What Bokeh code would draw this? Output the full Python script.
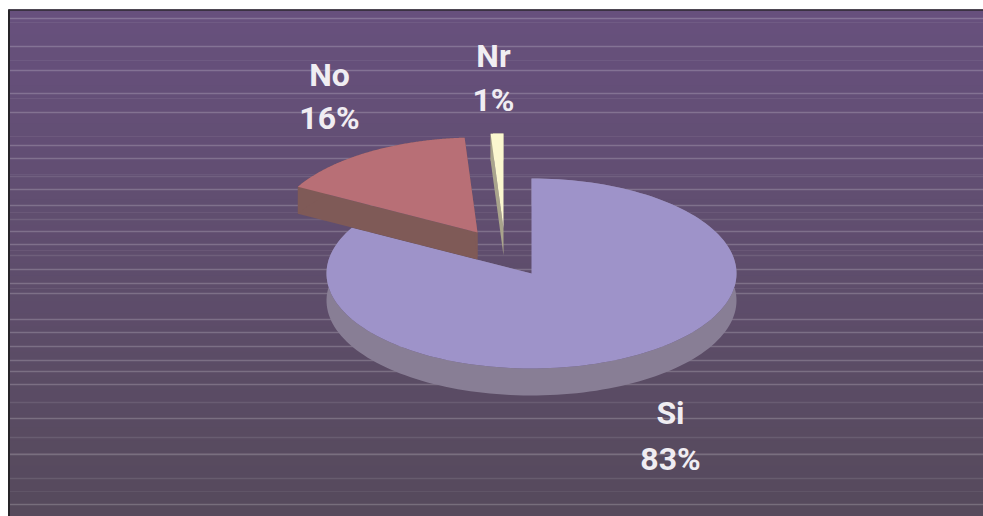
import numpy as np
from bokeh.plotting import figure
from bokeh.models import Range1d
from bokeh.core.properties import value
from bokeh.embed import file_html
from bokeh.resources import INLINE

# Data
categories = ["Si", "No", "Nr"]
percents = [83, 16, 1]
percent_labels = ["83%", "16%", "1%"]

# Layout (picture pixels)
W, H = 983, 516
LEFT, TOP = 8, 9
RX, RY = 205, 95
DEPTH = 27
CENTERS = {"Si": (531, 273), "No": (477, 232), "Nr": (503, 228)}
TOPS = {"Si": "#9e93c9", "No": "#b86f76", "Nr": "#fbf7cf"}
SIDES = {"Si": "#887e95", "No": "#7f5a57", "Nr": "#a9a48c"}
LABELS = {"Si": (670, 412, 458), "No": (329, 74, 117), "Nr": (493, 55, 99)}
STRIPES = [18, 46, 70, 93, 112, 145, 158, 176, 189, 205, 219, 231, 244, 255,
           269, 283, 293, 319, 332, 346, 360, 371, 384, 402, 418, 437, 454, 478, 504]
FAINT = {176, 219, 255, 402, 437, 478}

p = figure(width=W, height=H, output_backend="svg", toolbar_location=None,
           x_range=Range1d(0, W), y_range=Range1d(H, 0),
           min_border=0, outline_line_color=None)
p.axis.visible = False
p.grid.visible = False
p.background_fill_color = "#ffffff"
p.border_fill_color = "#ffffff"

# Background gradient
bands = np.linspace(TOP, H, 41)
c0, c1 = np.array([0x67, 0x50, 0x7d]), np.array([0x56, 0x4a, 0x5c])
cols = []
for i in range(40):
    c = c0 + (c1 - c0) * i / 39
    cols.append("#%02x%02x%02x" % tuple(int(round(v)) for v in c))
p.quad(left=LEFT, right=W, top=bands[:-1], bottom=bands[1:] + 0.5,
       fill_color=cols, line_color=None)

# Stripes
for y in STRIPES:
    faint = y in FAINT
    p.line([LEFT, W], [y, y], line_color="#ffffff",
           line_alpha=0.10 if faint else 0.2, line_width=1.5)

# Frame edges
p.line([LEFT + 0.5, LEFT + 0.5], [TOP, H], line_color="#262428", line_width=2)
p.line([LEFT, W], [TOP + 0.5, TOP + 0.5], line_color="#2c2830", line_width=1.5)


def bounds():
    out, acc = {}, 0.0
    total = sum(percents)
    for c, v in zip(categories, percents):
        out[c] = (acc / total * 2 * np.pi, (acc + v) / total * 2 * np.pi)
        acc += v
    return out


def pt(c, a):
    cx, cy = CENTERS[c]
    return cx + RX * np.sin(a), cy - RY * np.cos(a)


def draw_slice(c):
    a0, a1 = bounds()[c]
    cx, cy = CENTERS[c]
    ang = np.linspace(a0, a1, 160)
    xs, ys = pt(c, ang)
    # radial side faces
    for a in (a0, a1):
        ex, ey = pt(c, a)
        p.patch([cx, ex, ex, cx], [cy, ey, ey + DEPTH, cy + DEPTH],
                fill_color=SIDES[c], line_color=None)
    # outer rim
    p.patch(np.r_[xs, xs[::-1]], np.r_[ys, ys[::-1] + DEPTH],
            fill_color=SIDES[c], line_color=None)
    # top
    p.patch(np.r_[cx, xs], np.r_[cy, ys], fill_color=TOPS[c], line_color=None)


for c in ["Si", "Nr", "No"]:
    draw_slice(c)

# Labels
for c, lab in zip(categories, percent_labels):
    x, y1, y2 = LABELS[c]
    for txt, y in ((c, y1), (lab, y2)):
        p.text([x], [y], text=[txt], text_font=value("Roboto"),
               text_font_style="bold", text_font_size="32px",
               text_color="#f0edf2", text_align="center", text_baseline="middle")

open("out.html", "w").write(file_html(p, INLINE))
